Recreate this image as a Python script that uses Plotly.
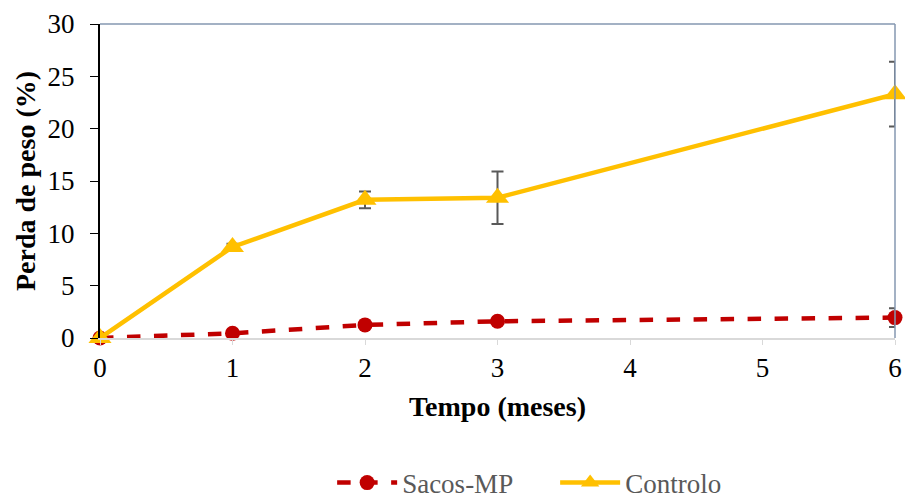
import plotly.graph_objects as go

meses = [0, 1, 2, 3, 6]
sacos_mp = [0.0, 0.45, 1.25, 1.6, 1.95]
sacos_err = [0.0, 0.1, 0.15, 0.2, 0.9]
controlo = [0.0, 8.7, 13.2, 13.4, 23.3]
controlo_err = [0.0, 0.3, 0.8, 2.5, 3.1]
x_ticks = [0, 1, 2, 3, 4, 5, 6]
y_ticks = [0, 5, 10, 15, 20, 25, 30]

font_fam = "Liberation Serif"

fig = go.Figure()
fig.add_trace(go.Scatter(
    x=meses, y=sacos_mp, name="Sacos-MP", mode="lines+markers",
    line=dict(color="#C00000", width=4.5, dash="dash"),
    marker=dict(symbol="circle", size=15, color="#C00000"),
    error_y=dict(type="data", array=sacos_err, color="#595959", thickness=2, width=6),
    cliponaxis=False,
))
fig.add_trace(go.Scatter(
    x=meses, y=controlo, name="Controlo", mode="lines+markers",
    line=dict(color="#FFC000", width=4.5),
    marker=dict(symbol="triangle-up", size=20, color="#FFC000"),
    error_y=dict(type="data", array=controlo_err, color="#595959", thickness=2, width=6),
    cliponaxis=False,
))

fig.update_layout(
    width=905, height=499,
    margin=dict(l=100, r=10, t=24, b=161, autoexpand=False),
    plot_bgcolor="white", paper_bgcolor="white",
    font=dict(family=font_fam, color="black", size=27),
    showlegend=True,
    legend=dict(orientation="h", x=0.292, xanchor="left",
                yref="container", y=0.032, yanchor="middle",
                font=dict(family=font_fam, size=27, color="#595959"),
                itemwidth=60, entrywidth=148, entrywidthmode="pixels"),
    xaxis=dict(
        range=[0, 6], tickvals=x_ticks, ticktext=[str(v) for v in x_ticks],
        showgrid=False, zeroline=False, showline=True, linecolor="#D9D9D9", linewidth=2,
        ticks="outside", ticklen=5, tickcolor="#D9D9D9", automargin=False,
        tickfont=dict(size=27),
        title=dict(text="<b>Tempo (meses)</b>", font=dict(size=28), standoff=14),
    ),
    yaxis=dict(
        range=[0, 30], tickvals=y_ticks,
        showgrid=False, zeroline=False, showline=True, linecolor="black", linewidth=2,
        ticks="outside", ticklen=8, tickcolor="black", automargin=False,
        ticklabelstandoff=10,
        tickfont=dict(size=27),
        title=dict(text="<b>Perda de peso (%)</b>", font=dict(size=28), standoff=4),
    ),
    shapes=[
        dict(type="line", xref="x domain", yref="y domain", x0=0, x1=1, y0=1, y1=1,
             line=dict(color="#8497B0", width=1.5)),
        dict(type="line", xref="x domain", yref="y domain", x0=1, x1=1, y0=0, y1=1,
             line=dict(color="#8497B0", width=1.5)),
    ],
)

fig.write_html("out.html")
